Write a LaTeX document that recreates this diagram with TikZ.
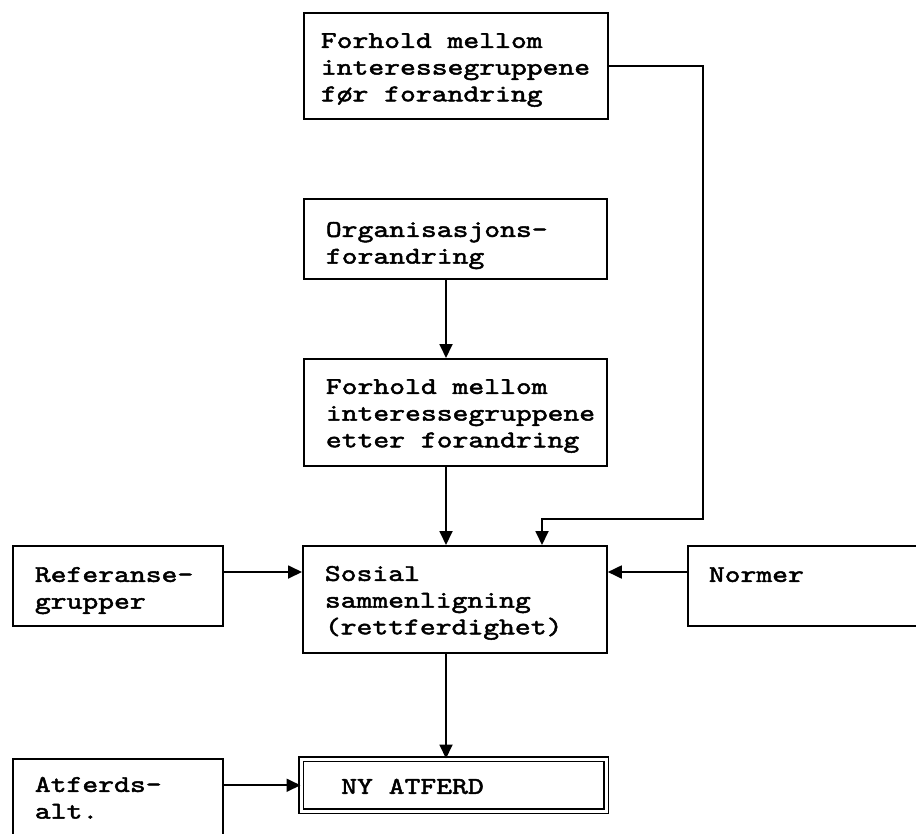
\documentclass[tikz,border=0pt]{standalone}
\usepackage{fontspec}
\usetikzlibrary{arrows.meta}
\newfontfamily\boxfont[Extension=.otf, FakeStretch=1.257, FakeBold=2]{lmmono10-regular}
\newcommand\boxlines[2]{\begin{tabular}[t]{@{}p{#1}@{}}#2\end{tabular}}
\tikzset{
  box/.style={draw, line width=1.8pt, inner ysep=0pt, anchor=north west,
    font=\boxfont\fontsize{24}{26.7}\selectfont},
  outcome/.style={box, double, double distance=3.2pt, line width=1.5pt},
  arr/.style={line width=1.8pt, -{Triangle[length=14pt,width=13pt]}}
}
\begin{document}
\begin{tikzpicture}[x=1pt, y=-1pt]
  \clip (0,0) rectangle (916,833);
  \fill[white] (0,0) rectangle (916,833);

  % boxes
  \node[box, inner xsep=17pt, text height=35pt, text depth=71pt] (before) at (303,12)
    {\boxlines{270pt}{Forhold mellom\\interessegruppene\\før forandring}};
  \node[box, inner xsep=22pt, text height=38pt, text depth=42pt] (orgchange) at (303,198)
    {\boxlines{259pt}{Organisasjons-\\forandring}};
  \node[box, inner xsep=22pt, text height=35pt, text depth=72pt] (after) at (303,358)
    {\boxlines{259pt}{Forhold mellom\\interessegruppene\\etter forandring}};
  \node[box, inner xsep=22pt, text height=35pt, text depth=72pt] (social) at (302,545)
    {\boxlines{260pt}{Sosial\\sammenligning\\(rettferdighet)}};
  \node[box, inner xsep=22pt, text height=36pt, text depth=44pt] (refgroups) at (12,545)
    {\boxlines{166pt}{Referanse-\\grupper}};
  \node[box, inner xsep=21pt, text height=36pt, text depth=44pt] (norms) at (687,545)
    {\boxlines{258pt}{Normer}};
  \node[box, inner xsep=22pt, text height=33pt, text depth=87pt] (alternatives) at (12,758)
    {\boxlines{166pt}{Atferds-\\alt.}};
  \node[outcome, inner xsep=40pt, text height=34.5pt, text depth=17.5pt] (newbehav) at (300.5,758.5)
    {\boxlines{225pt}{NY ATFERD}};

  % helper coordinates for the connector routes
  \coordinate (col) at (446,0);
  \coordinate (row) at (0,572);
  \coordinate (turnA) at (703,519);
  \coordinate (turnB) at (542,519);

  % connectors
  \draw[arr] (orgchange.south -| col) -- (after.north -| col);
  \draw[arr] (after.south -| col) -- (social.north -| col);
  \draw[arr] (social.south -| col) -- (newbehav.north -| col);
  \draw[arr] (before.east) -| (turnA) -- (turnB) -- (turnB |- social.north);
  \draw[arr] (refgroups.east |- row) -- (social.west |- row);
  \draw[arr] (norms.west |- row) -- (social.east |- row);
  \draw[arr] (newbehav.west -| alternatives.east) -- (newbehav.west);
\end{tikzpicture}
\end{document}
